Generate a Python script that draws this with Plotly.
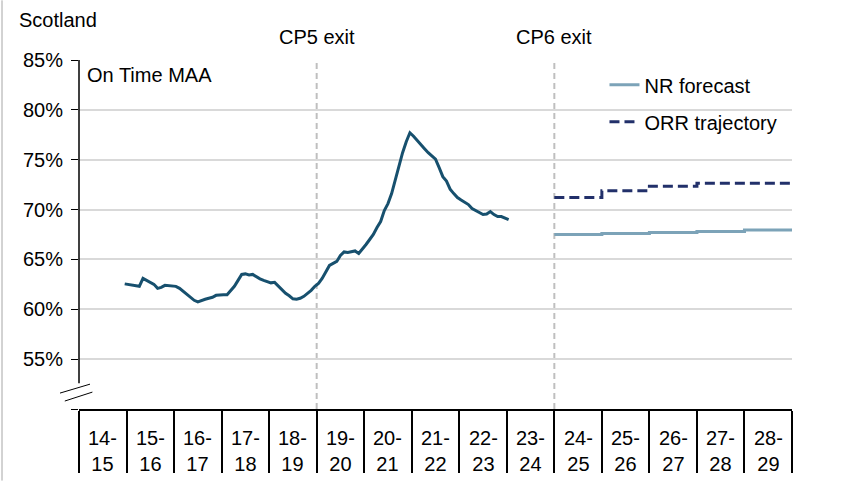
import plotly.graph_objects as go

# ---------------- data ----------------
years = ["14-15", "15-16", "16-17", "17-18", "18-19", "19-20", "20-21",
         "21-22", "22-23", "23-24", "24-25", "25-26", "26-27", "27-28", "28-29"]
year_labels = [y.replace("-", "-<br>") for y in years]

# On Time MAA, by rail period (13 per year); starts at 14-15 P13, ends at 23-24 P1
maa_start = ("14-15", 13)
maa_values = [
    62.55,                                                                               # 14-15 P13
    62.5, 62.4, 62.35, 62.3, 63.1, 62.9, 62.75, 62.5, 62.1, 62.2, 62.4, 62.35, 62.35,   # 15-16
    62.3, 62.1, 61.8, 61.5, 61.2, 60.9, 60.75, 60.9, 61.0, 61.1, 61.2, 61.4, 61.45,      # 16-17
    61.45, 61.45, 61.9, 62.3, 62.9, 63.5, 63.55, 63.45, 63.5, 63.25, 63.05, 62.9, 62.8,  # 17-18
    62.65, 62.7, 62.3, 61.95, 61.6, 61.35, 61.05, 61.0, 61.1, 61.3, 61.6, 61.9, 62.3,    # 18-19
    62.6, 63.1, 63.7, 64.4, 64.6, 64.8, 65.4, 65.75, 65.7, 65.75, 65.85, 65.6, 66.0,     # 19-20
    66.5, 67.0, 67.5, 68.2, 68.8, 69.9, 70.6, 71.6, 73.0, 74.5, 75.7, 76.8, 77.7,        # 20-21
    77.35, 76.9, 76.5, 76.1, 75.7, 75.4, 75.05, 74.2, 73.3, 72.85, 72.05, 71.6, 71.2,    # 21-22
    70.95, 70.75, 70.5, 70.1, 69.9, 69.7, 69.5, 69.55, 69.8, 69.5, 69.3, 69.3, 69.15,    # 22-23
    69.0,                                                                                # 23-24 P1
]

forecast_years = ["24-25", "25-26", "26-27", "27-28", "28-29"]
nr_forecast = [67.5, 67.6, 67.7, 67.8, 67.95]
orr_trajectory = [71.2, 71.9, 72.35, 72.65, 72.65]

y_ticks = [50, 55, 60, 65, 70, 75, 80, 85]
cp_lines = {"CP5 exit": "19-20", "CP6 exit": "24-25"}

# ---------------- build ----------------
PERIODS = 13
start_idx = years.index(maa_start[0]) * PERIODS + (maa_start[1] - 1)
maa_x = [(start_idx + i + 0.5) / PERIODS for i in range(len(maa_values))]

f0 = years.index(forecast_years[0])
step_x = [f0 + i for i in range(len(forecast_years) + 1)]
nr_y = nr_forecast + [nr_forecast[-1]]
orr_y = orr_trajectory + [orr_trajectory[-1]]

FONT = "Liberation Sans, Arial, sans-serif"
FS = 20

fig = go.Figure()
fig.add_trace(go.Scatter(x=maa_x, y=maa_values, mode="lines",
                         line=dict(color="#17506E", width=3),
                         showlegend=False, hoverinfo="skip"))
fig.add_trace(go.Scatter(x=step_x, y=nr_y, mode="lines", name="NR forecast",
                         line=dict(color="#7CA3B8", width=3, shape="hv"),
                         legendgroup="a"))
fig.add_trace(go.Scatter(x=step_x, y=orr_y, mode="lines", name="ORR trajectory",
                         line=dict(color="#22306A", width=3, shape="hv", dash="10px,5px"),
                         legendgroup="b"))

fig.update_layout(
    width=846, height=483,
    margin=dict(l=79, r=54, t=60, b=72),
    paper_bgcolor="white", plot_bgcolor="white",
    font=dict(family=FONT, size=FS, color="#000000"),
    legend=dict(x=0.737, y=0.985, xanchor="left", yanchor="top",
                bgcolor="rgba(0,0,0,0)", tracegroupgap=8,
                font=dict(size=FS)),
    xaxis=dict(range=[0, len(years)], tickvals=list(range(len(years) + 1)),
               showticklabels=False, ticks="outside", ticklen=62, tickwidth=2,
               tickcolor="#000000", showgrid=False, showline=True,
               linecolor="#000000", linewidth=1.5, zeroline=False, fixedrange=True),
    yaxis=dict(range=[50, 85], tickvals=y_ticks,
               ticktext=["" if v == 50 else f"{v}%" for v in y_ticks],
               ticks="outside", ticklen=7, tickwidth=1, tickcolor="#000000",
               ticklabelstandoff=4,
               showgrid=True, gridcolor="#D9D9D9", gridwidth=1.5,
               showline=False, zeroline=False, fixedrange=True),
)

shapes = []
# y axis line with break
shapes.append(dict(type="line", xref="paper", yref="paper", x0=0, x1=0,
                   y0=26 / 351, y1=1, line=dict(color="#000000", width=1.5)))
# break marks
for dy in (0, 8):
    shapes.append(dict(type="line", xref="paper", yref="paper",
                       x0=(60 + dy * 0.6 - 79) / 713, x1=(90 + dy * 0.3 - 79) / 713,
                       y0=(411 - 395 - dy) / 351, y1=(411 - 386 - dy) / 351,
                       line=dict(color="#000000", width=1)))
# CP lines
for name, yr in cp_lines.items():
    xi = years.index(yr)
    shapes.append(dict(type="line", xref="x", yref="paper", x0=xi, x1=xi, y0=0, y1=1,
                       line=dict(color="#BFBFBF", width=2, dash="6px,4px"), layer="below"))
# outer left border
shapes.append(dict(type="line", xref="paper", yref="paper", x0=-77 / 713, x1=-77 / 713,
                   y0=-72 / 351, y1=411 / 351, line=dict(color="#A6A6A6", width=1)))
fig.update_layout(shapes=shapes)

ann = []
for i, lab in enumerate(year_labels):
    ann.append(dict(x=i + 0.5, y=-42 / 351, xref="x", yref="paper", text=lab,
                    showarrow=False, xanchor="center", yanchor="middle",
                    font=dict(size=FS)))
for name, yr in cp_lines.items():
    ann.append(dict(x=years.index(yr), y=(411 - 37) / 351, xref="x", yref="paper",
                    text=name, showarrow=False, xanchor="center", yanchor="middle",
                    font=dict(size=FS)))
ann.append(dict(x=-62 / 713, y=(411 - 20) / 351, xref="paper", yref="paper",
                text="Scotland", showarrow=False, xanchor="left", yanchor="middle"))
ann.append(dict(x=6 / 713, y=(411 - 75) / 351, xref="paper", yref="paper",
                text="On Time MAA", showarrow=False, xanchor="left", yanchor="middle"))
fig.update_layout(annotations=ann)

fig.write_html("out.html", config={"displayModeBar": False},
               post_script="document.body.style.margin='0';document.body.style.overflow='hidden';")
